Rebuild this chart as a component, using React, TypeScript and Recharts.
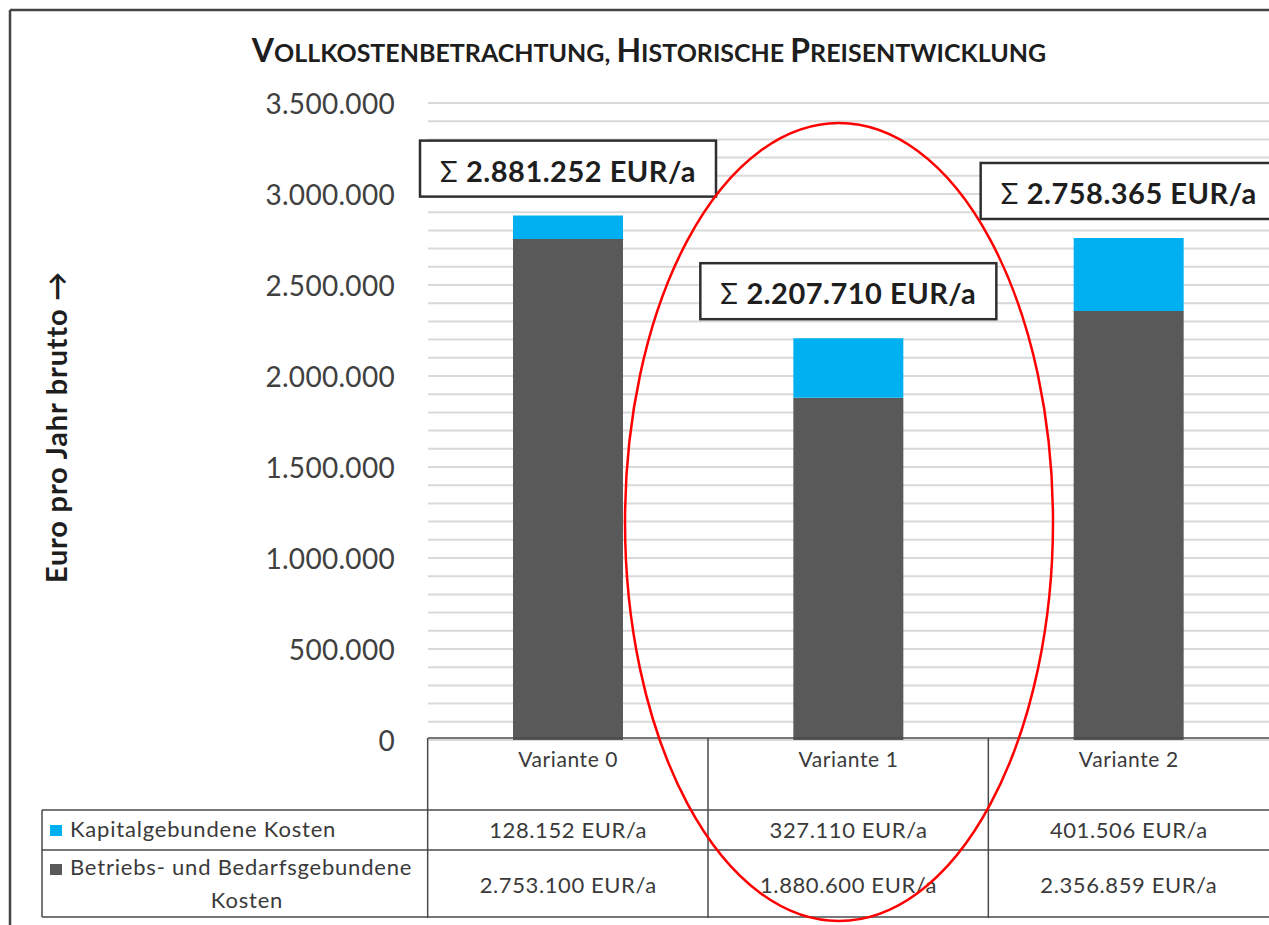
import React from 'react';
import { BarChart, Bar, XAxis, YAxis, CartesianGrid, LabelList } from 'recharts';

const categories = ['Variante 0', 'Variante 1', 'Variante 2'];
const kapital = [128152, 327110, 401506];
const betrieb = [2753100, 1880600, 2356859];
const totals = [2881252, 2207710, 2758365];
const yTicks = [0, 500000, 1000000, 1500000, 2000000, 2500000, 3000000, 3500000];
const minorStep = 100000;
const seriesNames = ['Kapitalgebundene Kosten', 'Betriebs- und Bedarfsgebundene', 'Kosten'];
const titleParts = [
  ['V', 'OLLKOSTENBETRACHTUNG, '],
  ['H', 'ISTORISCHE '],
  ['P', 'REISENTWICKLUNG'],
];
const yLabel = 'Euro pro Jahr brutto →';
const unit = 'EUR/a';

const gridValues: number[] = [];
for (let v = 0; v <= yTicks[yTicks.length - 1]; v += minorStep) gridValues.push(v);

const data = categories.map((c, i) => ({ name: c, betrieb: betrieb[i], kapital: kapital[i], total: totals[i] }));

const FONT = 'Lato, "Open Sans", sans-serif';
const W = 1269;
const H = 925;
const BLUE = '#00b0f0';
const DARK = '#595959';
const LINE = '#4a4a4a';
const TXT = '#3a3a3a';

const fmt = (n: number) => String(n).replace(/\B(?=(\d{3})+(?!\d))/g, '.');

function XTick(props: any) {
  const { x, y, payload, index } = props;
  const half = 140.5;
  const left = x - half;
  return (
    <g fontFamily={FONT} fill={TXT}>
      <line x1={left} y1={y - 2} x2={left} y2={918} stroke={LINE} strokeWidth={1.5} />
      <text x={x} y={767} textAnchor="middle" fontSize={21} letterSpacing={0.6} fill={TXT}>{payload.value}</text>
      <text x={x} y={838} textAnchor="middle" fontSize={22} letterSpacing={0.6} fill={TXT}>{fmt(kapital[index])} {unit}</text>
      <text x={x} y={893} textAnchor="middle" fontSize={22} letterSpacing={0.6} fill={TXT}>{fmt(betrieb[index])} {unit}</text>
    </g>
  );
}

function YTick(props: any) {
  const { x, y, payload } = props;
  return (
    <text x={x} y={y} textAnchor="end" dominantBaseline="central" fontSize={28} fill="#404040" fontFamily={FONT} letterSpacing={0.3}>
      {fmt(payload.value)}
    </text>
  );
}

function TotalLabel(props: any) {
  const { x, y, width, value } = props;
  const cx = x + width / 2;
  const bw = 296;
  const bh = 56;
  const top = y - 19 - bh;
  return (
    <g>
      <rect x={cx - bw / 2} y={top} width={bw} height={bh} fill="#fff" stroke="#2f2f2f" strokeWidth={2.5} />
      <text x={cx} y={top + bh / 2 + 1} textAnchor="middle" dominantBaseline="central" fontSize={29} letterSpacing={0.5} fill="#1e1e1e" fontFamily={FONT}>
        <tspan fontWeight={400}>Σ </tspan>
        <tspan fontWeight={700}>{fmt(value)} {unit}</tspan>
      </text>
    </g>
  );
}

export default function App() {
  return (
    <div style={{ position: 'absolute', left: 0, top: 0, width: W, height: H, background: '#fff', overflow: 'hidden' }}>
      <BarChart
        width={W}
        height={H}
        data={data}
        margin={{ top: 103, right: 0, bottom: 0, left: 228 }}
        barSize={110}
      >
        <CartesianGrid vertical={false} horizontalValues={gridValues} stroke="#d9d9d9" strokeWidth={2} />
        <XAxis
          dataKey="name"
          height={185}
          axisLine={false}
          tickLine={false}
          tickSize={0}
          tickMargin={0}
          interval={0}
          tick={<XTick />}
        />
        <YAxis
          width={200}
          domain={[0, yTicks[yTicks.length - 1]]}
          ticks={yTicks}
          interval={0}
          axisLine={false}
          tickLine={false}
          tickSize={0}
          tickMargin={33}
          tick={<YTick />}
        />
        <Bar dataKey="betrieb" stackId="a" fill={DARK} isAnimationActive={false} />
        <Bar dataKey="kapital" stackId="a" fill={BLUE} isAnimationActive={false}>
          <LabelList dataKey="total" content={<TotalLabel />} />
        </Bar>
      </BarChart>
      <svg width={W} height={H} style={{ position: 'absolute', left: 0, top: 0, pointerEvents: 'none' }}>
        {/* outer border */}
        <line x1={10} y1={10} x2={W} y2={10} stroke="#444" strokeWidth={2.5} />
        <line x1={10} y1={10} x2={10} y2={H} stroke="#444" strokeWidth={2.5} />
        {/* title */}
        <text x={649} y={62} textAnchor="middle" fontFamily={FONT} fontWeight={700} fill="#1e1e1e">
          {titleParts.map((p, i) => (
            <React.Fragment key={i}>
              <tspan fontSize={32}>{p[0]}</tspan>
              <tspan fontSize={25}>{p[1]}</tspan>
            </React.Fragment>
          ))}
        </text>
        {/* y label */}
        <text x={0} y={0} transform="translate(67,427) rotate(-90)" textAnchor="middle" fontFamily={FONT} fontWeight={700} fontSize={29} letterSpacing={0.8} fill="#1e1e1e">
          {yLabel}
        </text>
        {/* table lines */}
        <line x1={428} y1={738} x2={W} y2={738} stroke={LINE} strokeWidth={1.5} />
        <line x1={42} y1={810} x2={W} y2={810} stroke={LINE} strokeWidth={1.5} />
        <line x1={42} y1={850} x2={W} y2={850} stroke={LINE} strokeWidth={1.5} />
        <line x1={42} y1={917} x2={W} y2={917} stroke={LINE} strokeWidth={1.5} />
        <line x1={42} y1={810} x2={42} y2={917} stroke={LINE} strokeWidth={1.5} />
        {/* legend */}
        <rect x={50} y={825} width={12} height={11} fill={BLUE} />
        <text x={70} y={837} fontFamily={FONT} fontSize={22} letterSpacing={0.8} fill={TXT}>{seriesNames[0]}</text>
        <rect x={50} y={864} width={12} height={11} fill={DARK} />
        <text x={70} y={875} fontFamily={FONT} fontSize={22} letterSpacing={0.8} fill={TXT}>{seriesNames[1]}</text>
        <text x={247} y={908} textAnchor="middle" fontFamily={FONT} fontSize={22} letterSpacing={0.8} fill={TXT}>{seriesNames[2]}</text>
        {/* highlight ellipse */}
        <ellipse cx={839} cy={522} rx={214} ry={399} fill="none" stroke="#ff0000" strokeWidth={2.5} />
      </svg>
    </div>
  );
}
